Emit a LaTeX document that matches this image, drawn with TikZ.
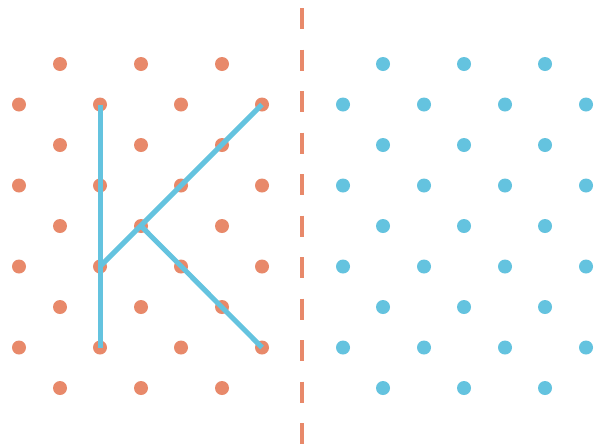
\documentclass[tikz,border=0pt]{standalone}
\definecolor{dotorange}{HTML}{E8896A}
\definecolor{dotblue}{HTML}{64C3DF}
\begin{document}
\begin{tikzpicture}[x=1pt,y=-1pt,
  odot/.style={circle,fill=dotorange,inner sep=0pt,minimum size=14pt},
  bdot/.style={circle,fill=dotblue,inner sep=0pt,minimum size=14pt},
  kline/.style={draw=dotblue,line width=5pt},
  divider/.style={draw=dotorange,line width=4.5pt,dash pattern=on 21pt off 20.5pt}]
\useasboundingbox (0,0) rectangle (602,445);
\fill[white] (0,0) rectangle (602,445);
% orange lattice
\foreach \r in {0,2,4,6,8}{
  \foreach \k in {0,1,2}{
    \node[odot] (o-\r-\k) at ({60+81*\k},{64+40.5*\r}) {};
  }
}
\foreach \r in {1,3,5,7}{
  \foreach \k in {0,1,2,3}{
    \node[odot] (o-\r-\k) at ({19+81*\k},{64+40.5*\r}) {};
  }
}
% blue lattice
\foreach \r in {0,2,4,6,8}{
  \foreach \k in {0,1,2}{
    \node[bdot] (b-\r-\k) at ({383+81*\k},{64+40.5*\r}) {};
  }
}
\foreach \r in {1,3,5,7}{
  \foreach \k in {0,1,2,3}{
    \node[bdot] (b-\r-\k) at ({343+81*\k},{64+40.5*\r}) {};
  }
}
% divider
\coordinate (dtop) at (302,8);
\coordinate (dbot) at (302,446);
\draw[divider] (dtop) -- (dbot);
% K lines
\draw[kline] (o-1-1.center) -- (o-7-1.center);
\draw[kline] (o-5-1.center) -- (o-1-3.center);
\draw[kline] (o-4-1.center) -- (o-7-3.center);
\end{tikzpicture}
\end{document}
